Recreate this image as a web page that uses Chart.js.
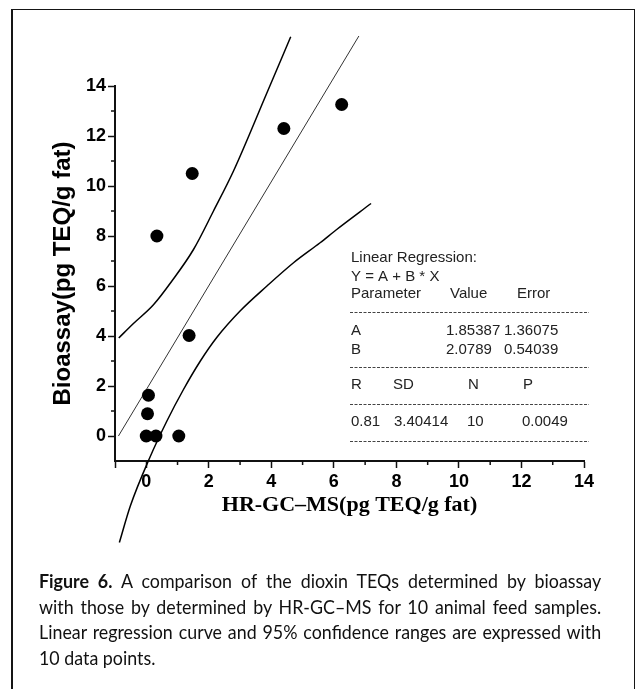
<!DOCTYPE html>
<html>
<head>
<meta charset="utf-8">
<script src="https://cdn.jsdelivr.net/npm/chart.js@4.4.1/dist/chart.umd.min.js"></script>
<style>
  html, body { margin: 0; padding: 0; background: #fff; }
  body { width: 637px; height: 689px; position: relative; overflow: hidden; }
  #chart { position: absolute; left: 0; top: 0; }
  #frame {
    position: absolute; left: 11px; top: 9px; width: 621px; height: 720px;
    border: 2px solid #151515; border-top-width: 1.5px; border-right-width: 1.5px;
    pointer-events: none;
  }
  #caption {
    position: absolute; left: 39px; top: 568px; width: 611px;
    transform: scaleX(0.92); transform-origin: 0 0;
    font-family: Lato, 'Liberation Sans', sans-serif;
    font-size: 19.4px; line-height: 25.7px; color: #111;
  }
  #caption .ln { text-align: justify; text-align-last: justify; white-space: nowrap; }
  #caption .ln.last { text-align-last: left; }
</style>
</head>
<body>
<canvas id="chart" width="637" height="560"></canvas>
<div id="frame"></div>
<div id="caption">
  <div class="ln"><b>Figure 6.</b> A comparison of the dioxin TEQs determined by bioassay</div>
  <div class="ln">with those by determined by HR-GC–MS for 10 animal feed samples.</div>
  <div class="ln">Linear regression curve and 95% confidence ranges are expressed with</div>
  <div class="ln last">10 data points.</div>
</div>
<script>
// measured samples (pg TEQ/g fat)
const hrgcms   = [0, 0.04, 0.07, 0.31, 0.34, 1.04, 1.37, 1.47, 4.4, 6.25];
const bioassay = [0, 0.89, 1.63, 0, 8.0, 0, 4.02, 10.5, 12.3, 13.26];

// regression line and 95% confidence band
const regX = [-0.89, 6.8];
const regY = [0, 16.0];
const upperX = [-0.88, -0.41, 0.23, 0.82, 1.51, 2.15, 2.79, 3.85, 4.62];
const upperY = [3.92, 4.5, 5.25, 6.2, 7.46, 9.0, 10.6, 13.7, 15.97];
const lowerX = [-0.86, -0.51, 0.1, 0.66, 1.19, 1.73, 2.26, 3.0, 3.86, 4.71, 5.56, 6.09, 7.19];
const lowerY = [-4.26, -2.8, -0.9, 0.6, 1.86, 3.0, 3.95, 5.0, 6.0, 6.93, 7.73, 8.26, 9.3];

// fit summary box
const fitHeader = ['Linear Regression:', 'Y = A + B * X'];
const paramCols = ['Parameter', 'Value', 'Error'];
const paramRows = [['A', '1.85387', '1.36075'], ['B', '2.0789', '0.54039']];
const statCols = ['R', 'SD', 'N', 'P'];
const statVals = ['0.81', '3.40414', '10', '0.0049'];

const xTicks = [0, 2, 4, 6, 8, 10, 12, 14];
const yTicks = [0, 2, 4, 6, 8, 10, 12, 14];

const toPts = (xs, ys) => xs.map((x, i) => ({ x: x, y: ys[i] }));

const tickFont = { family: "'Liberation Sans', Arial, sans-serif", size: 18, weight: 'bold' };

const minorTicks = {
  id: 'minorTicks',
  afterDraw(chart) {
    const { ctx, scales: { x, y }, chartArea } = chart;
    ctx.save();
    ctx.strokeStyle = '#111';
    ctx.lineWidth = 1.5;
    ctx.beginPath();
    for (let v = 1; v < 14; v += 2) {
      const px = x.getPixelForValue(v);
      ctx.moveTo(px, chartArea.bottom);
      ctx.lineTo(px, chartArea.bottom + 4);
      const py = y.getPixelForValue(v);
      ctx.moveTo(chartArea.left, py);
      ctx.lineTo(chartArea.left - 4, py);
    }
    ctx.stroke();
    ctx.restore();
  }
};

const fitBox = {
  id: 'fitBox',
  afterDraw(chart) {
    const ctx = chart.ctx;
    ctx.save();
    ctx.fillStyle = '#222';
    ctx.font = "15px 'Liberation Sans', Arial, sans-serif";
    ctx.textBaseline = 'middle';
    ctx.textAlign = 'left';
    ctx.fillText(fitHeader[0], 351, 258);
    ctx.fillText(fitHeader[1], 351, 277);
    [351, 450, 517].forEach((px, i) => ctx.fillText(paramCols[i], px, 294));
    paramRows.forEach((row, r) => {
      [351, 446, 504].forEach((px, i) => ctx.fillText(row[i], px, 331 + r * 18.5));
    });
    [351, 393, 468, 523].forEach((px, i) => ctx.fillText(statCols[i], px, 385));
    [351, 394, 467, 522].forEach((px, i) => ctx.fillText(statVals[i], px, 422));

    ctx.strokeStyle = '#444';
    ctx.lineWidth = 1;
    ctx.setLineDash([3, 1.5]);
    [312, 367, 404, 441].forEach(py => {
      ctx.beginPath();
      ctx.moveTo(350, py + 0.5);
      ctx.lineTo(589, py + 0.5);
      ctx.stroke();
    });
    ctx.restore();
  }
};

new Chart(document.getElementById('chart'), {
  type: 'scatter',
  data: {
    datasets: [
      {
        label: 'samples',
        data: toPts(hrgcms, bioassay),
        backgroundColor: '#000',
        borderWidth: 0,
        pointRadius: 6.5,
        order: 0
      },
      {
        label: 'fit',
        type: 'line',
        data: toPts(regX, regY),
        borderColor: '#333',
        borderWidth: 1,
        pointRadius: 0,
        clip: false,
        order: 1
      },
      {
        label: 'upper 95%',
        type: 'line',
        data: toPts(upperX, upperY),
        borderColor: '#000',
        borderWidth: 1.5,
        pointRadius: 0,
        cubicInterpolationMode: 'monotone',
        clip: false,
        order: 1
      },
      {
        label: 'lower 95%',
        type: 'line',
        data: toPts(lowerX, lowerY),
        borderColor: '#000',
        borderWidth: 1.5,
        pointRadius: 0,
        cubicInterpolationMode: 'monotone',
        clip: false,
        order: 1
      }
    ]
  },
  options: {
    responsive: false,
    animation: false,
    layout: { padding: { left: 0, top: 86, right: 53, bottom: 20 } },
    plugins: { legend: { display: false }, tooltip: { enabled: false } },
    scales: {
      x: {
        type: 'linear',
        min: -1,
        max: 14,
        afterFit(scale) {
          scale.height = 79;
          scale.paddingLeft = 0; scale.paddingRight = 0;
        },
        afterBuildTicks(scale) {
          scale.ticks = [-1].concat(xTicks).map(v => ({ value: v }));
        },
        ticks: {
          autoSkip: false,
          maxRotation: 0,
          padding: 3,
          color: '#000',
          font: tickFont,
          callback: v => (xTicks.includes(v) ? String(v) : '')
        },
        grid: { drawOnChartArea: false, tickLength: 7, tickWidth: 1.5, tickColor: '#111' },
        border: { color: '#111', width: 2 },
        title: {
          display: true,
          text: 'HR-GC–MS(pg TEQ/g fat)',
          color: '#000',
          font: { family: "'Liberation Serif', 'Times New Roman', serif", size: 22, weight: 'bold', lineHeight: 1 },
          padding: { top: 0, bottom: 24 }
        }
      },
      y: {
        type: 'linear',
        min: -1,
        max: 14,
        afterFit(scale) {
          scale.width = 115;
          scale.paddingTop = 0; scale.paddingBottom = 0;
        },
        afterBuildTicks(scale) {
          scale.ticks = yTicks.map(v => ({ value: v }));
        },
        ticks: {
          autoSkip: false,
          padding: 2,
          color: '#000',
          font: tickFont,
          callback: v => String(v)
        },
        grid: { drawOnChartArea: false, tickLength: 7, tickWidth: 1.5, tickColor: '#111' },
        border: { color: '#111', width: 2 },
        title: {
          display: true,
          text: 'Bioassay(pg TEQ/g fat)',
          color: '#000',
          font: { family: "'Liberation Sans', Arial, sans-serif", size: 24, weight: 'bold', lineHeight: 1 },
          padding: { top: 51, bottom: 0 }
        }
      }
    }
  },
  plugins: [minorTicks, fitBox]
});
</script>
</body>
</html>
